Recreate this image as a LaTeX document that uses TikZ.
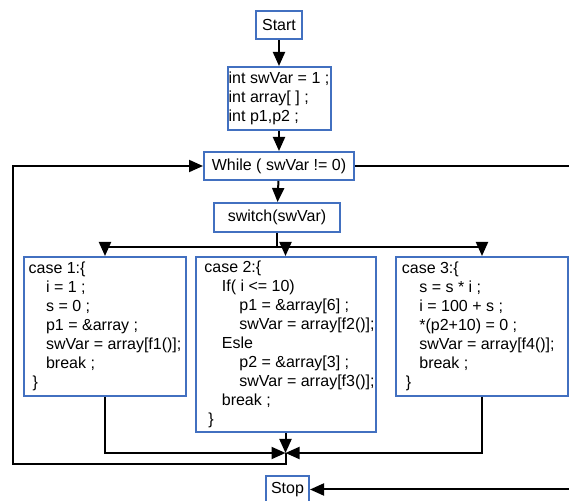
\documentclass[tikz,border=0pt]{standalone}
\usepackage{fontspec}
\setmainfont{Liberation Sans}
\usetikzlibrary{arrows.meta,positioning}
\definecolor{boxblue}{RGB}{66,112,192}
\newcommand\ci{\hspace*{8.75pt}}
\newcommand\cs{\hspace*{4pt}}
\begin{document}
\begin{tikzpicture}[font=\fontsize{8}{9.5}\selectfont,>={Triangle[length=7pt,width=6pt]},
 box/.style={draw=boxblue,line width=1pt,inner sep=2pt,align=center},
 code/.style={box,align=left},
 flow/.style={->,line width=1pt}]
\useasboundingbox (0,0) rectangle (284.5pt,-250.5pt);
\node[box,minimum width=23pt,minimum height=14.3pt] (start) at (139.5pt,-12.5pt) {Start};
\node[code,inner xsep=0.5pt,minimum width=51.5pt,minimum height=31.5pt,below=12.85pt of start] (decl) {int swVar = 1 ;\\int array[ ] ;\\int p1,p2 ;};
\node[box,minimum width=75pt,minimum height=14pt,below=10pt of decl] (while) {While ( swVar != 0)};
\node[box,minimum width=63pt,minimum height=14.5pt,below=10.5pt of while,xshift=-1pt] (switch) {switch(swVar)};
\node[code,inner xsep=1.9pt,minimum width=81pt,minimum height=69.5pt] (caseone) at (52.5pt,-163.25pt)
 {case 1:\{\\\ci i = 1 ;\\\ci s = 0 ;\\\ci p1 = \&array ;\\\ci swVar = array[f1()];\\\ci break ;\\\hspace*{2pt}\}};
\node[code,inner xsep=0pt,minimum width=90pt,minimum height=87.5pt] (casetwo) at (142.75pt,-172.25pt)
 {\cs case 2:\{\\\cs\ci If( i <= 10)\\\cs\ci\ci p1 = \&array[6] ;\\\cs\ci\ci swVar = array[f2()];\\\cs\ci Esle\\\cs\ci\ci p2 = \&array[3] ;\\\cs\ci\ci swVar = array[f3()];\\\cs\ci break ;\\\cs\hspace*{2pt}\}};
\node[code,inner xsep=2.5pt,minimum width=86pt,minimum height=69.5pt] (casethree) at (241pt,-163.25pt)
 {case 3:\{\\\ci s = s * i ;\\\ci i = 100 + s ;\\\ci *(p2+10) = 0 ;\\\ci swVar = array[f4()];\hspace*{3.75pt}\mbox{}\\\ci break ;\\\hspace*{2pt}\}};
\node[box,minimum width=21.5pt,minimum height=13.5pt] (stop) at (143.75pt,-244.75pt) {Stop};
\coordinate[below=7pt of switch] (fork);
\coordinate[below=10pt of casetwo] (merge);
\coordinate (loopbl) at (6.35pt,-232pt);
\coordinate (offpage) at (292pt,0);
\draw[flow] (start) -- (decl);
\draw[flow] (decl) -- (while);
\draw[flow] (while) -- (switch);
\draw[line width=1pt] (switch) -- (fork);
\draw[line width=1pt] (caseone.north |- fork) -- (casethree.north |- fork);
\draw[flow] (caseone.north |- fork) -- (caseone);
\draw[flow] (casetwo.north |- fork) -- (casetwo);
\draw[flow] (casethree.north |- fork) -- (casethree);
\draw[flow] (caseone) |- (merge);
\draw[flow] (casetwo) -- (merge);
\draw[flow] (casethree) |- (merge);
\draw[flow] (merge) |- (loopbl) |- (while);
\draw[flow] (while) -- (while -| offpage) |- (stop);
\end{tikzpicture}
\end{document}
